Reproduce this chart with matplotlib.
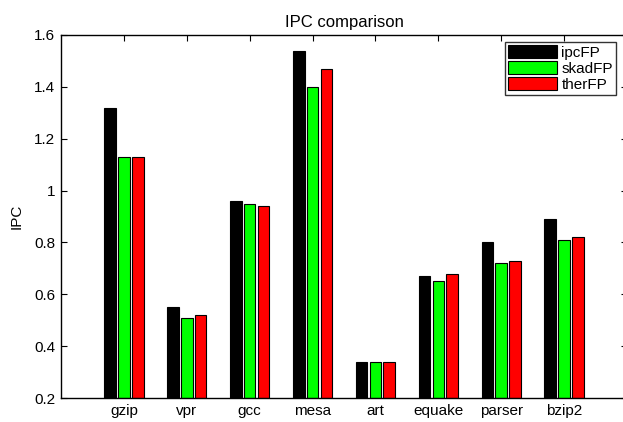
import matplotlib
matplotlib.use("Agg")
import matplotlib.pyplot as plt
import numpy as np

plt.rcParams['font.family'] = ['Liberation Sans', 'DejaVu Sans']

categories = ["gzip", "vpr", "gcc", "mesa", "art", "equake", "parser", "bzip2"]
ipcFP = [1.32, 0.55, 0.96, 1.54, 0.34, 0.67, 0.80, 0.89]
skadFP = [1.13, 0.51, 0.95, 1.40, 0.34, 0.65, 0.72, 0.81]
therFP = [1.13, 0.52, 0.94, 1.47, 0.34, 0.68, 0.73, 0.82]
series_names = ["ipcFP", "skadFP", "therFP"]
colors = ["#000000", "#00ff00", "#ff0000"]
yticks = [0.2, 0.4, 0.6, 0.8, 1.0, 1.2, 1.4, 1.6]
ytick_labels = ["0.2", "0.4", "0.6", "0.8", "1", "1.2", "1.4", "1.6"]

W, H = 623, 422
fig = plt.figure(figsize=(W / 100, H / 100), dpi=100)
left, right, top, bottom = 61, 627, 35, 398
ax = fig.add_axes([left / W, 1 - bottom / H, (right - left) / W, (bottom - top) / H])

x = np.arange(1, len(categories) + 1)
offs = [-0.22, 0.0, 0.22]
bw = 0.185
handles = []
for vals, name, c, o in zip([ipcFP, skadFP, therFP], series_names, colors, offs):
    h = ax.bar(x + o, np.array(vals) - 0.2, bottom=0.2, width=bw, color=c,
               edgecolor="#000000", linewidth=0.8, label=name, zorder=2)
    handles.append(h)

ax.set_xlim(0, 9)
ax.set_ylim(0.2, 1.6)
ax.set_xticks(x)
ax.set_xticklabels(categories, fontsize=11)
ax.set_yticks(yticks)
ax.set_yticklabels(ytick_labels, fontsize=11)
ax.tick_params(direction="in", top=True, right=True, length=4, width=0.8, pad=4)
for s in ax.spines.values():
    s.set_linewidth(1.0)
ax.set_ylabel("IPC", fontsize=11, labelpad=8)
ax.set_title("IPC comparison", fontsize=12, pad=6)

leg = fig.legend(handles=handles, labels=series_names, loc="upper right",
                 bbox_to_anchor=(616 / W, 1 - 42 / H), fontsize=11,
                 frameon=True, fancybox=False, edgecolor="black",
                 borderpad=0.2, handlelength=3.2, handleheight=0.9,
                 handletextpad=0.3, labelspacing=0.1, borderaxespad=0)
leg.get_frame().set_linewidth(1.0)

fig.savefig("out.png", dpi=100)
